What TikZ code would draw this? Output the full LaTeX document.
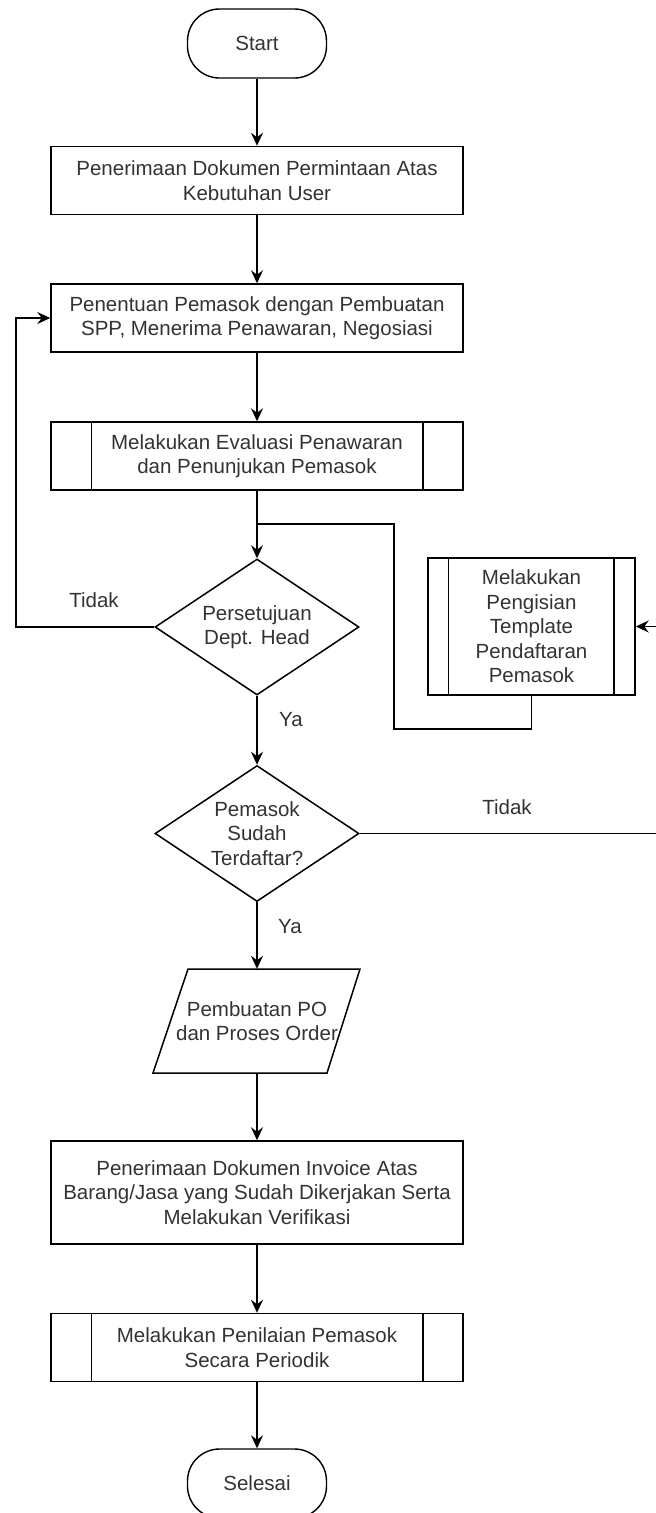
\documentclass[tikz,border=0pt]{standalone}
\usepackage{fontspec}
\setmainfont{Liberation Sans}
\usetikzlibrary{arrows.meta,shapes.geometric}
\definecolor{txt}{HTML}{333333}
\begin{document}
\begin{tikzpicture}[x=1pt,y=-1pt,
  every node/.style={font=\fontsize{20.5}{24.5}\selectfont, text=txt, align=center, inner sep=0pt},
  line/.style={draw=black, line width=1.5pt},
  flow/.style={line, -{Stealth[length=13pt,width=12pt,inset=4.5pt]}},
  term/.style={draw, line width=1.4pt, rounded corners=32pt, minimum width=139pt, minimum height=69pt},
  procbox/.style={draw, line width=1.5pt, minimum width=412pt, minimum height=68pt},
  dia/.style={diamond, draw, line width=1.5pt, aspect=1.5, minimum width=204pt, minimum height=136pt},
  iotext/.style={minimum width=140pt, minimum height=104pt}
]
\fill[white] (0,0) rectangle (656,1513);
\useasboundingbox (0,0) rectangle (656,1513);

% main column
\node[term] (start) at (257,43.5) {Start};
\node[procbox] (b1) at (257,180.5) {Penerimaan Dokumen Permintaan Atas\\Kebutuhan User};
\node[procbox] (b2) at (257,318) {Penentuan Pemasok dengan Pembuatan\\SPP, Menerima Penawaran, Negosiasi};
\node[procbox] (b3) at (257,456) {Melakukan Evaluasi Penawaran\\dan Penunjukan Pemasok};
\node[dia] (d1) at (257,627) {Persetujuan\\Dept. Head};
\node[dia] (d2) at (257,833.5) {Pemasok\\Sudah\\Terdaftar?};
\node[iotext] (po) at (257,1021) {Pembuatan PO\\dan Proses Order};
\node[procbox, minimum height=103pt] (b4) at (257,1192.5) {Penerimaan Dokumen Invoice Atas\\Barang/Jasa yang Sudah Dikerjakan Serta\\Melakukan Verifikasi};
\node[procbox] (b5) at (257,1347.5) {Melakukan Penilaian Pemasok\\Secara Periodik};
\node[term] (end) at (257,1483.5) {Selesai};

% supplier registration subprocess
\node[draw, line width=1.5pt, minimum width=207pt, minimum height=137pt] (t) at (531.5,626.5)
  {Melakukan\\Pengisian\\Template\\Pendaftaran\\Pemasok};

% parallelogram outline
\draw[line] (188,969) -- (360,969) -- (327,1073) -- (153,1073) -- cycle;

% subprocess side bars
\foreach \n in {b3,b5} {
  \draw[line] ([xshift=41pt]\n.north west) -- ([xshift=41pt]\n.south west);
  \draw[line] ([xshift=-41pt]\n.north east) -- ([xshift=-41pt]\n.south east);
}
\draw[line] ([xshift=21pt]t.north west) -- ([xshift=21pt]t.south west);
\draw[line] ([xshift=-22pt]t.north east) -- ([xshift=-22pt]t.south east);

% connectors
\coordinate (j1) at (257,524);
\coordinate (r1) at (394,729);
\coordinate (l1) at (16,627);
\coordinate (r2) at (668,833.5);

\draw[flow] (start) -- (b1);
\draw[flow] (b1) -- (b2);
\draw[flow] (b2) -- (b3);
\draw[flow] (b3) -- (d1);
\draw[line] (t.south) |- (r1) |- (j1);
\draw[flow] (d1.west) -- (l1) |- (b2.west);
\draw[flow] (d1) -- (d2);
\draw[flow] (d2.east) -- (r2) |- (t.east);
\draw[flow] (d2.south) -- (po.north);
\draw[flow] (po.south) -- (b4.north);
\draw[flow] (b4) -- (b5);
\draw[flow] (b5) -- (end);

% branch labels
\node (tidak1) at (94,600) {Tidak};
\node (ya1) at (291,720) {Ya};
\node (tidak2) at (507,807) {Tidak};
\node (ya2) at (290,927) {Ya};
\end{tikzpicture}
\end{document}
